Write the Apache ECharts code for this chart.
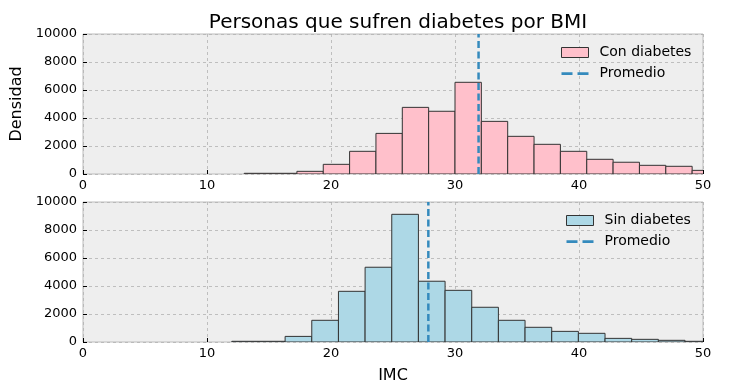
<!DOCTYPE html>
<html><head><meta charset="utf-8">
<script src="https://cdn.jsdelivr.net/npm/echarts@6/dist/echarts.min.js"></script>
<style>html,body{margin:0;padding:0;background:#fff}#c{width:732px;height:392px}</style>
</head><body><div id="c"></div>
<script>
// Con diabetes: bin edges and heights
const conEdges = [13, 15.125, 17.25, 19.375, 21.5, 23.625, 25.75, 27.875, 30, 32.125, 34.25, 36.375, 38.5, 40.625, 42.75, 44.875, 47, 49.125, 51.25];
const conValues = [50, 50, 190, 690, 1620, 2900, 4760, 4480, 6550, 3760, 2690, 2120, 1620, 1050, 840, 620, 550, 260];
const conMean = 31.9;
// Sin diabetes
const sinEdges = [12, 14.15, 16.3, 18.45, 20.6, 22.75, 24.9, 27.05, 29.2, 31.35, 33.5, 35.65, 37.8, 39.95, 42.1, 44.25, 46.4, 48.55, 50.7];
const sinValues = [50, 50, 400, 1550, 3620, 5340, 9120, 4340, 3690, 2480, 1550, 1050, 760, 620, 260, 190, 120, 50];
const sinMean = 27.85;

function binData(edges, vals){ return vals.map((v,i)=>[edges[i], edges[i+1], v]); }
function renderBar(params, api){
  const p0 = api.coord([api.value(0), 0]);
  const p1 = api.coord([api.value(1), api.value(2)]);
  return {type:'rect', shape:{x:p0[0], y:p1[1], width:p1[0]-p0[0], height:p0[1]-p1[1]},
    style: api.style()};
}
const font = 'DejaVu Sans';
const dashIcon = 'path://M0,0h0.05v0.05h-0.05z M0,3.8h11v2.6h-11z M16,3.8h11v2.6h-11z M0,9.95h0.05v0.05h-0.05z';
function xAx(gi){ return {type:'value', gridIndex:gi, min:0, max:50, interval:10,
  axisLine:{show:false}, axisTick:{show:true, inside:true, length:4, lineStyle:{color:'#000'}},
  axisLabel:{color:'#000', fontFamily:font, fontSize:13, margin:5, formatter:v=>String(v)},
  splitLine:{show:true, lineStyle:{color:'#b2b2b2', type:[3,3], width:0.8}},
  name: gi===1 ? 'IMC' : '', nameLocation:'middle', nameGap:26, nameTextStyle:{color:'#000', fontFamily:font, fontSize:16}}; }
function yAx(gi){ return {type:'value', gridIndex:gi, min:0, max:10000, interval:2000,
  axisLine:{show:false}, axisTick:{show:true, inside:true, length:4, lineStyle:{color:'#000'}},
  axisLabel:{color:'#000', fontFamily:font, fontSize:13, margin:6, formatter:v=>String(v)},
  splitLine:{show:true, lineStyle:{color:'#b2b2b2', type:[3,3], width:0.8}},
  name: gi===0 ? 'Densidad' : '', nameLocation:'middle', nameGap:51, nameRotate:90,
  nameTextStyle:{color:'#000', fontFamily:font, fontSize:16}}; }
const legendText = {color:'#000', fontFamily:font, fontSize:14, lineHeight:15, padding:[0,0,0,6]};
const option = {
  animation:false,
  backgroundColor:'#fff',
  title:{text:'Personas que sufren diabetes por BMI', left:393, textAlign:'center', top:8,
    textStyle:{color:'#000', fontFamily:font, fontSize:20, fontWeight:'normal'}},
  grid:[
    {left:83, right:29, top:34, height:140, show:true, backgroundColor:'#eeeeee', borderColor:'#bcbcbc', borderWidth:1, containLabel:false, outerBoundsMode:'none'},
    {left:83, right:29, top:202, height:140, show:true, backgroundColor:'#eeeeee', borderColor:'#bcbcbc', borderWidth:1, containLabel:false, outerBoundsMode:'none'}
  ],
  xAxis:[xAx(0), xAx(1)],
  yAxis:[yAx(0), yAx(1)],
  legend:[
    {orient:'vertical', left:561, top:45, padding:0, itemWidth:27, itemHeight:10, itemGap:6, textStyle:legendText,
     data:[{name:'Con diabetes', icon:'rect', itemStyle:{color:'#FFC0CB', borderColor:'#333', borderWidth:1}},
           {name:'Promedio', icon:dashIcon, itemStyle:{color:'#348ABD', borderWidth:0}}],
     selectedMode:false},
    {orient:'vertical', left:566, top:213, padding:0, itemWidth:27, itemHeight:10, itemGap:6, textStyle:legendText,
     data:[{name:'Sin diabetes', icon:'rect', itemStyle:{color:'#ADD8E6', borderColor:'#333', borderWidth:1}},
           {name:'Promedio', icon:dashIcon, itemStyle:{color:'#348ABD', borderWidth:0}}],
     selectedMode:false}
  ],
  series:[
    {name:'Con diabetes', type:'custom', xAxisIndex:0, yAxisIndex:0, clip:true, renderItem:renderBar,
     encode:{x:[0,1], y:2}, data:binData(conEdges, conValues),
     itemStyle:{color:'#FFC0CB', borderColor:'#333', borderWidth:1}},
    {name:'Promedio', type:'line', xAxisIndex:0, yAxisIndex:0, symbol:'none', z:5,
     data:[[conMean,0],[conMean,10000]], lineStyle:{color:'#348ABD', width:2.5, type:[7,3.5]}, itemStyle:{color:'#348ABD'}},
    {name:'Sin diabetes', type:'custom', xAxisIndex:1, yAxisIndex:1, clip:true, renderItem:renderBar,
     encode:{x:[0,1], y:2}, data:binData(sinEdges, sinValues),
     itemStyle:{color:'#ADD8E6', borderColor:'#333', borderWidth:1}},
    {name:'Promedio', type:'line', xAxisIndex:1, yAxisIndex:1, symbol:'none', z:5,
     data:[[sinMean,0],[sinMean,10000]], lineStyle:{color:'#348ABD', width:2.5, type:[7,3.5]}, itemStyle:{color:'#348ABD'}}
  ]
};
echarts.init(document.getElementById('c'), null, {renderer:'canvas'}).setOption(option);
</script></body></html>
